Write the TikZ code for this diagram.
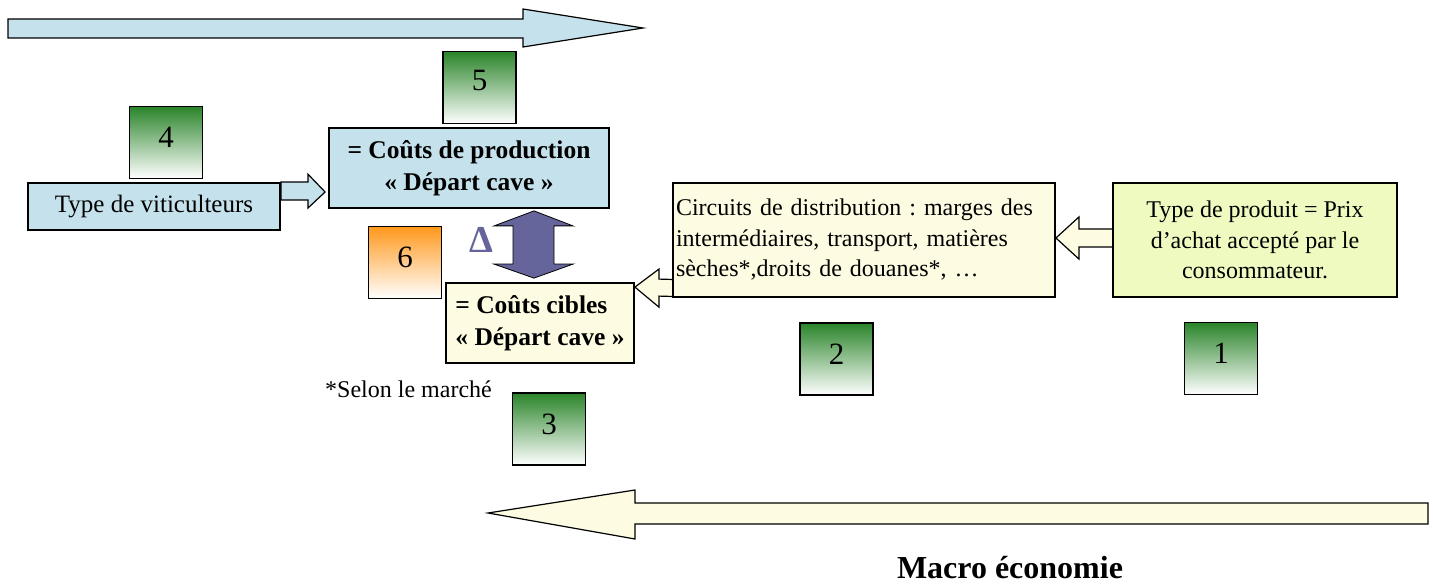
\documentclass[tikz,border=0pt]{standalone}
\usepackage{fontspec}
\setmainfont{Liberation Serif}
\usetikzlibrary{calc,backgrounds}

\definecolor{skyfill}{HTML}{C5E2EC}
\definecolor{creamfill}{HTML}{FDFBE1}
\definecolor{limefill}{HTML}{EFFAC0}
\definecolor{deltafill}{HTML}{65659B}
\definecolor{numgreen}{HTML}{2A842A}
\definecolor{numgreymid}{HTML}{AABEAA}
\definecolor{numorange}{HTML}{FF981C}
\definecolor{orangemid}{HTML}{FDC99A}

\begin{document}
\frenchspacing
\begin{tikzpicture}[x=1pt,y=-1pt,
  box/.style={draw=black, line width=1.8pt, rectangle, inner sep=0pt},
  txtbox/.style={box, font=\frenchspacing\fontsize{24}{30.5}\selectfont},
  boldbox/.style={box, font=\bfseries\fontsize{25.5}{32}\selectfont},
  numbox/.style={box, minimum width=73pt, minimum height=72pt,
    top color=numgreen, middle color=numgreymid, bottom color=white,
    font=\fontsize{31}{34}\selectfont},
  orangebox/.style={numbox, top color=numorange, middle color=orangemid, bottom color=white},
  blockarrow/.style={draw=black, line width=1.2pt, line join=miter},
]
\useasboundingbox (0,0) rectangle (1433,585);

% long flow arrows
\draw[blockarrow, fill=skyfill] (8,19) -- (523,19) -- (523,9) -- (643,28)
  -- (523,47) -- (523,38) -- (8,38) -- cycle;
\draw[blockarrow, fill=creamfill] (1428,503) -- (635,503) -- (635,490) -- (488,513)
  -- (635,539) -- (635,524) -- (1428,524) -- cycle;

% text boxes
\node[txtbox, fill=skyfill, minimum width=252pt, minimum height=47pt,
  font=\fontsize{25}{30}\selectfont] (vit) at (154,206.5)
  {Type de viticulteurs};
\node[boldbox, fill=skyfill, minimum width=280pt, minimum height=80pt, align=center] (prod) at (469,168)
  {= Coûts de production\\«~Départ cave~»};
\node[boldbox, fill=creamfill, minimum width=188pt, minimum height=80pt, align=left] (cibles) at (540,323)
  {= Coûts cibles\\«~Départ cave~»};
\node[txtbox, fill=creamfill, minimum width=382pt, minimum height=114pt, align=left,
  text width=376pt] (circ) at (864,240)
  {Circuits de distribution : marges des\\intermédiaires, transport, matières\\sèches*,droits de douanes*, …};
\node[txtbox, fill=limefill, minimum width=284pt, minimum height=114pt, align=center] (prodt) at (1255,240)
  {Type de produit = Prix\\d’achat accepté par le\\consommateur.};

% numbered steps
\node[numbox] (n1) at (1221,358.5) {\raisebox{10pt}{1}};
\node[numbox] (n2) at (836.5,359) {\raisebox{10pt}{2}};
\node[numbox] (n3) at (549,429) {\raisebox{10pt}{3}};
\node[numbox] (n4) at (166,142.5) {\raisebox{11pt}{4}};
\node[numbox] (n5) at (479.5,87.5) {\raisebox{14pt}{5}};
\node[orangebox] (n6) at (405,262.5) {\raisebox{10pt}{6}};

% connectors between boxes
\begin{scope}[on background layer]
  \draw[blockarrow, fill=skyfill] (vit.north east) -- ++(27,0) -- ++(0,-8)
    -- ($(prod.west)+(-3,24)$) -- ($(vit.north east)+(27,26)$) -- ++(0,-8)
    -- ($(vit.north east)+(0,18)$) -- cycle;
  \coordinate (t2) at ($(cibles.north east)+(0,5)$);
  \draw[blockarrow, fill=creamfill] (t2) -- ($(t2)+(24,-18)$) -- ($(t2)+(24,-8)$)
    -- ($(circ.west)+(20,40)$) -- ($(circ.west)+(20,57)$) -- ($(t2)+(24,9)$)
    -- ($(t2)+(24,20)$) -- cycle;
  \coordinate (t3) at ($(circ.east)+(0,-2)$);
  \draw[blockarrow, fill=creamfill] (t3) -- ($(t3)+(23,-21)$) -- ($(t3)+(23,-9)$)
    -- ($(prodt.west)+(15,-11)$) -- ($(prodt.west)+(15,7)$) -- ($(t3)+(23,9)$)
    -- ($(t3)+(23,21)$) -- cycle;
\end{scope}

% gap between production cost and target cost
\coordinate (dT) at ($(prod.south)+(65,2)$);
\coordinate (dB) at ($(cibles.north)+(-6,-4)$);
\draw[draw=black, line width=0.8pt, fill=deltafill] (dT) -- ($(dT)+(39,15)$) -- ($(dT)+(20,15)$)
  -- ($(dB)+(20,-14)$) -- ($(dB)+(39,-14)$) -- (dB) -- ($(dB)+(-40,-14)$)
  -- ($(dB)+(-21,-14)$) -- ($(dT)+(-21,15)$) -- ($(dT)+(-40,15)$) -- cycle;
\node[text=deltafill, font=\bfseries\fontsize{38}{40}\selectfont, inner sep=0pt] (delta) at (481,240) {Δ};

% notes
\node[anchor=base west, inner sep=0pt, font=\fontsize{24}{30}\selectfont] (note) at (325,398) {*Selon le marché};
\node[anchor=base, inner sep=0pt, font=\bfseries\fontsize{32}{36}\selectfont] (macro) at (1010,578) {Macro économie};
\end{tikzpicture}
\end{document}
